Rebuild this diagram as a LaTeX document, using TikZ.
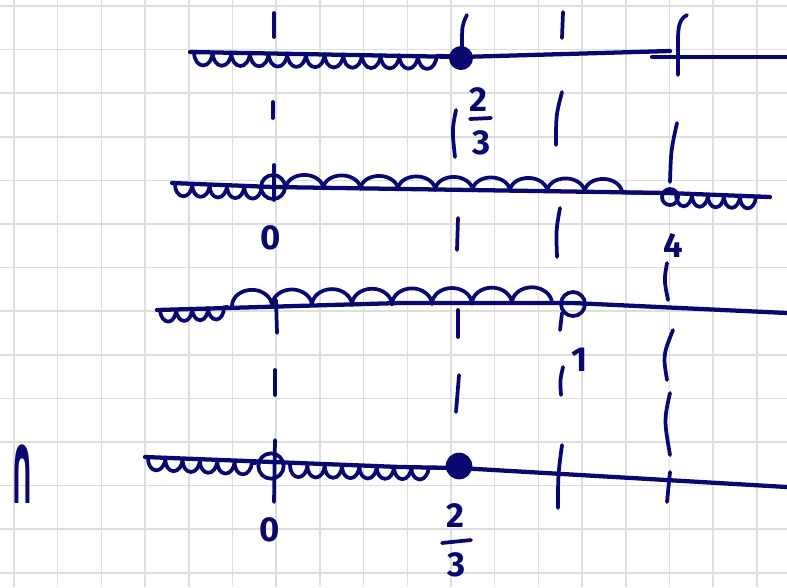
\documentclass[tikz,border=0pt]{standalone}
\usepackage{fontspec}
\setmainfont{Fira Sans}
\newfontfamily\symfont{DejaVu Sans}
\usetikzlibrary{decorations.pathmorphing}
\definecolor{ink}{RGB}{8,8,112}
\definecolor{gridc}{RGB}{222,222,222}
\begin{document}
\begin{tikzpicture}[x=0.75pt,y=-0.75pt,
  gridline/.style={gridc, line width=1.1pt},
  pen/.style={ink, line width=3.2pt, line cap=round, line join=round},
  tickmark/.style={ink, line width=2.8pt, line cap=round, line join=round},
  loopsdown/.style 2 args={ink, line width=2.8pt, line cap=round, line join=round, decorate, decoration={bumps, mirror, segment length=#1, amplitude=#2}},
  loopsup/.style 2 args={ink, line width=2.8pt, line cap=round, line join=round, decorate, decoration={bumps, segment length=#1, amplitude=#2}},
  dotfill/.style={circle, fill=ink, inner sep=0pt, minimum size=#1},
  dotopen/.style={circle, draw=ink, line width=2.8pt, inner sep=0pt, minimum size=#1},
  numlabel/.style={text=ink, font=\fontsize{26}{26}\selectfont\bfseries, inner sep=0pt},
]
\useasboundingbox (0,0) rectangle (787,587);
\fill[white] (0,0) rectangle (787,587);
% grid
\foreach \i in {0,...,17} \draw[gridline] ({14+43.7*\i},0) -- ({14+43.7*\i},587);
\foreach \j in {0,...,13} \draw[gridline] (0,{6+43.6*\j}) -- (787,{6+43.6*\j});

% ---------- line 1 ----------
\draw[pen] (190,52) -- (461,57) -- (670,51);
\draw[pen] (652,57) -- (787,57);
\draw[loopsdown={28pt}{10pt}] (194,52) -- (452,56);
\draw[tickmark] (274,13) -- (274,37);
\draw[tickmark] (467,15) .. controls (462,25) .. (462,47);
\draw[tickmark] (563,12) -- (562,38);
\draw[tickmark] (687,15) .. controls (679,19) and (678,28) .. (678,40) -- (678,75);
\node[dotfill=18pt] (d1) at (461,58) {};
\node[numlabel] (f1n) at (478,100) {2};
\draw[tickmark] (470,119) -- (491,118);
\node[numlabel] (f1d) at (482,143) {3};

% guides between 1 and 2
\draw[tickmark] (273,102) -- (273,118);
\draw[tickmark] (456,110) .. controls (452,130) .. (455,157);
\draw[tickmark] (562,92) .. controls (556,115) .. (556,145);
\draw[tickmark] (677,123) .. controls (671,150) .. (670,182);

% ---------- line 2 ----------
\draw[pen] (172,183) -- (273,187) -- (668,193) -- (770,197);
\draw[loopsdown={26pt}{9pt}] (175,184) -- (262,187);
\draw[loopsup={56pt}{10pt}] (286,188) -- (660,193);
\draw[loopsdown={24pt}{9pt}] (676,194) -- (766,197);
\node[dotopen=18pt] (c2a) at (273,187) {};
\node[dotopen=12pt] (c2b) at (670,197) {};
\draw[tickmark] (274,165) -- (274,200);
\node[numlabel] (l0a) at (271,238) {0};
\node[numlabel] (l4) at (673,245) {4};

% guides between 2 and 3
\draw[tickmark] (458,218) -- (457,250);
\draw[tickmark] (560,208) .. controls (556,230) .. (557,257);
\draw[tickmark] (667,263) .. controls (664,280) .. (668,300);

% ---------- line 3 ----------
\draw[pen] (157,310) -- (400,303) -- (573,303) -- (787,313);
\draw[loopsdown={24pt}{9pt}] (160,310) -- (228,307);
\draw[loopsup={60pt}{12pt}] (232,306) -- (560,303);
\draw[tickmark] (276,300) -- (277,333);
\draw[tickmark] (458,310) -- (458,337);
\draw[tickmark] (562,313) -- (560,330);
\node[dotopen=18pt] (c3) at (573,304) {};
\node[numlabel] (l1) at (580,360) {1};
\draw[tickmark] (563,367) .. controls (560,380) .. (561,395);

% guides between 3 and 4
\draw[tickmark] (275,370) -- (275,395);
\draw[tickmark] (459,375) -- (456,412);
\draw[tickmark] (673,330) .. controls (663,355) .. (667,380);
\draw[tickmark] (670,393) .. controls (664,420) .. (670,455);

% ---------- line 4 ----------
\draw[pen] (145,457) -- (400,467) -- (459,468) -- (787,487);
\draw[loopsdown={26pt}{9pt}] (148,458) -- (256,463);
\draw[loopsdown={26pt}{9pt}] (290,465) -- (446,468);
\node[dotopen=19pt] (c4) at (271,466) {};
\draw[tickmark] (275,440) -- (274,502);
\node[dotfill=20pt] (d4) at (459,466) {};
\draw[tickmark] (562,445) .. controls (558,475) .. (558,508);
\draw[tickmark] (670,472) -- (667,502);
\node[numlabel] (l0b) at (270,530) {0};
\node[numlabel] (f4n) at (455,516) {2};
\draw[tickmark] (442,543) -- (471,540);
\node[numlabel] (f4d) at (457,565) {3};

% intersection sign
\node[text=ink, inner sep=0pt] (cap) at (22,474) {\scalebox{0.55}[1.9]{\symfont\bfseries\fontsize{40}{40}\selectfont ∩}};
\end{tikzpicture}
\end{document}
